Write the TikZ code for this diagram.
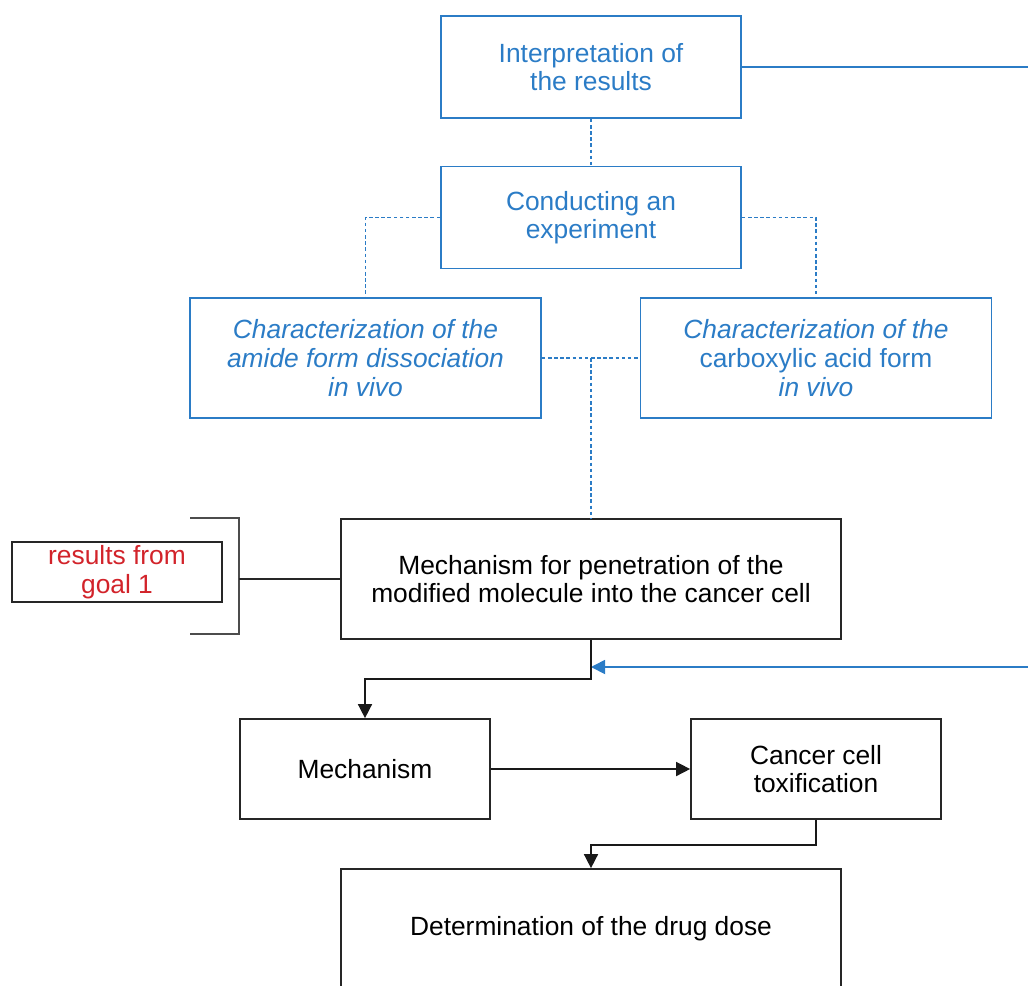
\documentclass[tikz,border=0pt]{standalone}
\usepackage{fontspec}
\setmainfont{Liberation Sans}
\usetikzlibrary{arrows.meta}
\definecolor{stageblue}{HTML}{2B7CC6}
\definecolor{goalred}{HTML}{D2232A}
\begin{document}
\begin{tikzpicture}[x=0.02cm,y=-0.02cm,
    font=\fontsize{15}{16.3}\selectfont,
    bluebox/.style={draw=stageblue,text=stageblue,line width=1pt,align=center,inner sep=0pt},
    blackbox/.style={draw=black!85,line width=1pt,align=center,inner sep=0pt},
    link/.style={stageblue,line width=0.9pt,dash pattern=on 2pt off 1.5pt},
    flow/.style={black!90,line width=0.9pt,-{Triangle[length=8pt,width=8pt]}},
    feedback/.style={stageblue,line width=1pt,-{Triangle[length=8pt,width=8pt]}}]
      \useasboundingbox (0,0) rectangle (1028,985);
      \clip (0,0) rectangle (1028,985);
      \draw
        (591,67) node[bluebox,minimum width=6cm,minimum height=2.04cm] (interp){Interpretation of\\the results}
        (591,217.5) node[bluebox,minimum width=6cm,minimum height=2.04cm] (conduct){Conducting an\\experiment}
        (365.5,358) node[bluebox,minimum width=7.02cm,minimum height=2.4cm] (amide){\textit{Characterization of the}\\\textit{amide form dissociation}\\\textit{in vivo}}
        (816,358) node[bluebox,minimum width=7.02cm,minimum height=2.4cm] (carbox){\textit{Characterization of the}\\carboxylic acid form\\\textit{in vivo}}
        (591,579) node[blackbox,minimum width=10cm,minimum height=2.4cm] (penetr){Mechanism for penetration of the\\modified molecule into the cancer cell}
        (117,572) node[blackbox,text=goalred,minimum width=4.2cm,minimum height=1.2cm] (goal){results from\\goal 1}
        (365,769) node[blackbox,minimum width=5cm,minimum height=2cm] (mech){Mechanism}
        (816,769) node[blackbox,minimum width=5cm,minimum height=2cm] (toxif){Cancer cell\\toxification}
        (591,929) node[blackbox,minimum width=10cm,minimum height=2.4cm] (dose){Determination of the drug dose};
      \coordinate (split) at (591,358);
      \coordinate (brk) at (239,579);
      \coordinate (turn) at (591,679);
      \coordinate (join) at (591,667);
      \coordinate (offpage) at (1050,67);
      \begin{scope}[link]
        \draw (interp) to (conduct);
        \draw (conduct.west) -| (amide.north);
        \draw (conduct.east) -| (carbox.north);
        \draw (amide.east) to (carbox.west);
        \draw (split) to (penetr.north);
      \end{scope}
      \draw[black!70,line width=1.2pt] (190,518) -| (brk) |- (190,634);
      \draw[black!85,line width=0.9pt] (brk) to (penetr.west);
      \draw[feedback] (interp.east) -- (offpage) |- (join);
      \begin{scope}[flow]
        \draw (penetr.south) -- (turn) -| (mech.north);
        \draw (mech) to (toxif);
        \draw (toxif.south) -- ++(0,25) -| (dose.north);
      \end{scope}
    \end{tikzpicture}
\end{document}
